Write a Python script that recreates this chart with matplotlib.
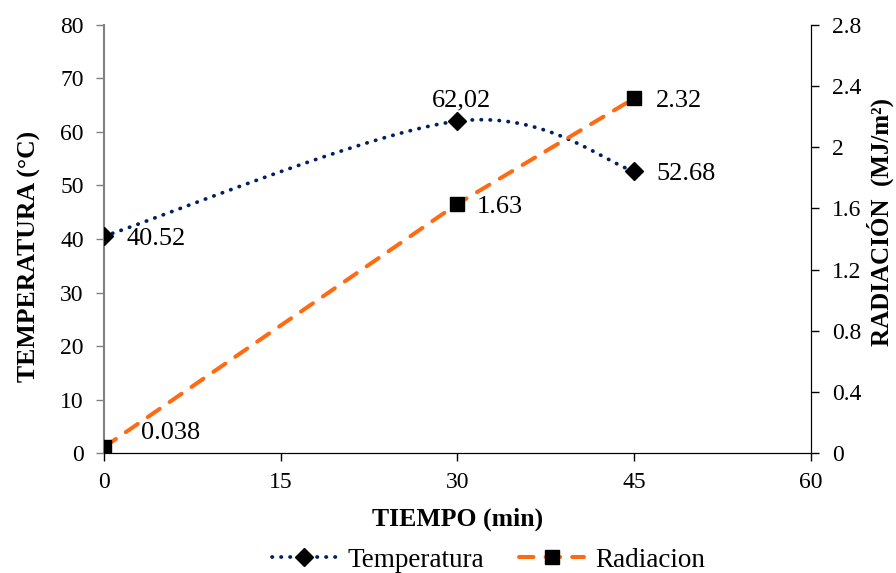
import numpy as np
import matplotlib
matplotlib.use("Agg")
import matplotlib.pyplot as plt
from matplotlib.lines import Line2D

# data
tiempo = [0, 30, 45]
temperatura = [40.52, 62.02, 52.68]
radiacion = [0.038, 1.63, 2.32]
temp_labels = ["40.52", "62,02", "52.68"]
rad_labels = ["0.038", "1.63", "2.32"]
left_ticks = [0, 10, 20, 30, 40, 50, 60, 70, 80]
right_ticks = [0, 0.4, 0.8, 1.2, 1.6, 2, 2.4, 2.8]
right_tick_labels = ["0", "0.4", "0.8", "1.2", "1.6", "2", "2.4", "2.8"]
x_ticks = [0, 15, 30, 45, 60]


def smooth(x, y, n=60):
    # catmull-rom style smoothing, like the spreadsheet "smoothed line"
    x = np.asarray(x, float)
    y = np.asarray(y, float)
    px = np.concatenate([[x[0]], x, [x[-1]]])
    py = np.concatenate([[y[0]], y, [y[-1]]])
    xs, ys = [], []
    for i in range(1, len(px) - 2):
        t = np.linspace(0, 1, n)
        for p, out in ((px, xs), (py, ys)):
            p0, p1, p2, p3 = p[i - 1], p[i], p[i + 1], p[i + 2]
            m1 = (p2 - p0) / 2
            m2 = (p3 - p1) / 2
            h00 = 2 * t**3 - 3 * t**2 + 1
            h10 = t**3 - 2 * t**2 + t
            h01 = -2 * t**3 + 3 * t**2
            h11 = t**3 - t**2
            out.extend(h00 * p1 + h10 * m1 + h01 * p2 + h11 * m2)
    return np.array(xs), np.array(ys)


plt.rcParams["font.family"] = ["Liberation Serif", "DejaVu Serif"]
plt.rcParams["font.size"] = 16.5

fig = plt.figure(figsize=(8.96, 5.73), dpi=100)
ax = fig.add_axes([0.116, 0.2094, 0.789, 0.747])
ax2 = ax.twinx()

navy = "#002060"
orange = "#ff6a13"
dot_style = (0, (0.1, 2.3))
dash_style = (0, (3.6, 3.0))

sx, sy = smooth(tiempo, temperatura)
ax.plot(sx, sy, color=navy, linestyle=dot_style, linewidth=2.7,
        dash_capstyle="round", zorder=3)
ax.plot(tiempo, temperatura, linestyle="none", marker="D", markersize=9.5,
        color="black", zorder=4)

ax2.plot(tiempo, radiacion, color=orange, linestyle=dash_style,
         linewidth=2.9, dash_capstyle="round", zorder=3)
ax2.plot(tiempo, radiacion, linestyle="none", marker="s", markersize=10.5,
         color="black", zorder=4)

# data labels
lab_fs = 19
ax.annotate(temp_labels[0], (tiempo[0], temperatura[0]), xytext=(16, -2),
            textcoords="offset points", ha="left", va="center", fontsize=lab_fs)
ax.annotate(temp_labels[1], (tiempo[1], temperatura[1]), xytext=(3, 15),
            textcoords="offset points", ha="center", va="center", fontsize=lab_fs)
ax.annotate(temp_labels[2], (tiempo[2], temperatura[2]), xytext=(16, -2),
            textcoords="offset points", ha="left", va="center", fontsize=lab_fs)
ax2.annotate(rad_labels[0], (tiempo[0], radiacion[0]), xytext=(27, 10),
             textcoords="offset points", ha="left", va="center", fontsize=lab_fs)
ax2.annotate(rad_labels[1], (tiempo[1], radiacion[1]), xytext=(14, -2),
             textcoords="offset points", ha="left", va="center", fontsize=lab_fs)
ax2.annotate(rad_labels[2], (tiempo[2], radiacion[2]), xytext=(16, -2),
             textcoords="offset points", ha="left", va="center", fontsize=lab_fs)

ax.set_xlim(0, 60)
ax.set_ylim(0, 80)
ax2.set_ylim(0, 2.8)
ax.set_xticks(x_ticks)
ax.set_yticks(left_ticks)
ax2.set_yticks(right_ticks)
ax2.set_yticklabels(right_tick_labels)

ax.spines["top"].set_visible(False)
ax2.spines["top"].set_visible(False)
ax.spines["left"].set_color("#808080")
ax.spines["left"].set_linewidth(1.5)
ax2.spines["left"].set_visible(False)
ax.spines["bottom"].set_color("black")
ax2.spines["right"].set_color("black")
ax.tick_params(axis="y", colors="#808080", labelcolor="black")
for a in (ax, ax2):
    a.tick_params(direction="out", length=6, width=1, labelsize=17)
ax.tick_params(axis="y", pad=8.5)
ax.tick_params(axis="x", pad=7.5)
ax2.tick_params(axis="y", pad=9)

ax.set_xlabel("TIEMPO (min)", fontweight="bold", fontsize=18.5, labelpad=11)
ax.set_ylabel("TEMPERATURA (\u00b0C)", fontweight="bold", fontsize=18.5,
              labelpad=14)
ax2.set_ylabel("RADIACI\u00d3N  (MJ/m\u00b2)", fontweight="bold", fontsize=18,
               labelpad=4)
ax.yaxis.label.set_y(0.46)
ax2.yaxis.label.set_y(0.54)

handles = [
    Line2D([], [], color=navy, linestyle=dot_style, linewidth=2.7,
           dash_capstyle="round", marker="D", markersize=9.5,
           markerfacecolor="black", markeredgecolor="black"),
    Line2D([], [], color=orange, linestyle=dash_style, linewidth=2.9,
           dash_capstyle="round", marker="s", markersize=10.5,
           markerfacecolor="black", markeredgecolor="black"),
]
fig.legend(handles, ["Temperatura", "Radiacion"], loc="lower center",
           bbox_to_anchor=(0.545, -0.042), ncol=2, frameon=False,
           handlelength=2.4, handletextpad=0.4, columnspacing=1.3,
           fontsize=19.5)

fig.savefig("out.png", dpi=100)
